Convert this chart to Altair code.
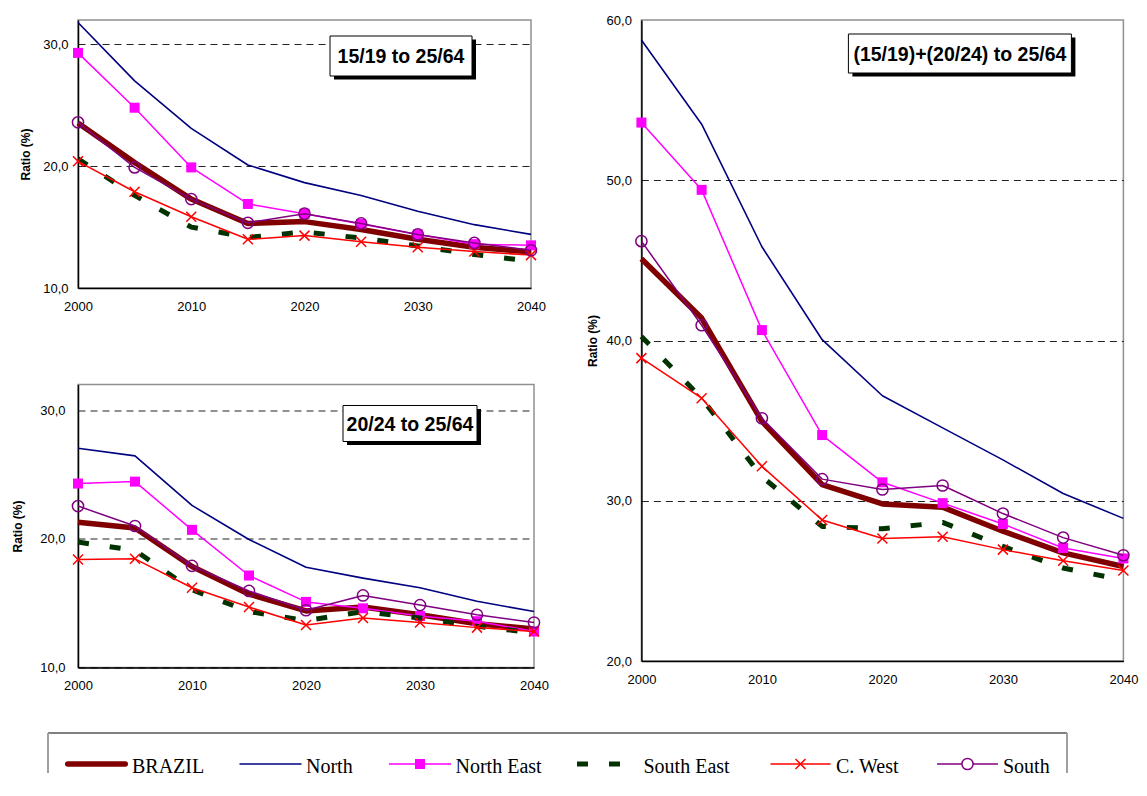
import altair as alt
import pandas as pd

# ---------------- data ----------------
years = [2000, 2005, 2010, 2015, 2020, 2025, 2030, 2035, 2040]
series_names = ["BRAZIL", "North", "North East", "South East", "C. West", "South"]
x_tick_values = [2000, 2010, 2020, 2030, 2040]

# Panel 1: 15/19 to 25/64
p1_title = "15/19 to 25/64"
p1_brazil = [23.55, 20.3, 17.3, 15.3, 15.45, 14.8, 14.0, 13.35, 12.95]
p1_north = [31.8, 27.0, 23.1, 20.1, 18.65, 17.6, 16.3, 15.2, 14.4]
p1_north_east = [29.3, 24.8, 19.9, 16.9, 16.1, 15.25, 14.4, 13.6, 13.5]
p1_south_east = [20.6, 17.6, 15.0, 14.15, 14.6, 14.1, 13.45, 12.75, 12.2]
p1_c_west = [20.4, 17.9, 15.85, 14.0, 14.3, 13.8, 13.35, 13.0, 12.7]
p1_south = [23.6, 19.9, 17.3, 15.35, 16.1, 15.3, 14.4, 13.7, 13.1]
p1_y_ticks = [10, 20, 30]

# Panel 2: 20/24 to 25/64
p2_title = "20/24 to 25/64"
p2_brazil = [21.3, 20.85, 17.85, 15.7, 14.4, 14.7, 14.1, 13.4, 13.0]
p2_north = [27.05, 26.45, 22.6, 19.95, 17.8, 16.95, 16.2, 15.15, 14.35]
p2_north_east = [24.3, 24.45, 20.7, 17.15, 15.1, 14.6, 14.0, 13.6, 12.8]
p2_south_east = [19.75, 19.1, 16.05, 14.35, 13.65, 14.35, 13.85, 13.2, 12.7]
p2_c_west = [18.4, 18.45, 16.2, 14.7, 13.3, 13.85, 13.5, 13.1, 12.8]
p2_south = [22.55, 21.0, 17.9, 15.95, 14.45, 15.6, 14.85, 14.1, 13.5]
p2_y_ticks = [10, 20, 30]

# Panel 3: (15/19)+(20/24) to 25/64
p3_title = "(15/19)+(20/24) to 25/64"
p3_brazil = [45.1, 41.4, 34.95, 31.0, 29.8, 29.6, 28.1, 26.75, 25.9]
p3_north = [58.75, 53.5, 45.85, 40.05, 36.55, 34.55, 32.55, 30.45, 28.9]
p3_north_east = [53.6, 49.4, 40.65, 34.1, 31.15, 29.85, 28.55, 27.05, 26.4]
p3_south_east = [40.25, 36.4, 31.5, 28.4, 28.25, 28.65, 27.15, 25.8, 25.05]
p3_c_west = [38.9, 36.4, 32.15, 28.8, 27.65, 27.75, 26.95, 26.25, 25.65]
p3_south = [46.2, 40.95, 35.15, 31.35, 30.7, 30.95, 29.2, 27.7, 26.6]
p3_y_ticks = [20, 30, 40, 50, 60]


def to_long(columns):
    rows = []
    for name, vals in zip(series_names, columns):
        for yr, v in zip(years, vals):
            rows.append({"series": name, "year": yr, "value": v})
    return pd.DataFrame(rows)


df1 = to_long([p1_brazil, p1_north, p1_north_east, p1_south_east, p1_c_west, p1_south])
df2 = to_long([p2_brazil, p2_north, p2_north_east, p2_south_east, p2_c_west, p2_south])
df3 = to_long([p3_brazil, p3_north, p3_north_east, p3_south_east, p3_c_west, p3_south])

# ---------------- styles ----------------
FONT = "Liberation Sans"
SERIF = "Liberation Serif"
line_styles = {
    "BRAZIL": dict(color="#800000", strokeWidth=5.5),
    "North": dict(color="#000080", strokeWidth=1.6),
    "North East": dict(color="#FF00FF", strokeWidth=1.5),
    "South East": dict(color="#003300", strokeWidth=5, strokeDash=[11, 21]),
    "C. West": dict(color="#FF0000", strokeWidth=1.5),
    "South": dict(color="#800080", strokeWidth=1.5),
}
X_PATH = "M-1,-1L1,1M-1,1L1,-1"
marker_styles = {
    "North East": dict(shape="square", size=100, filled=True, color="#FF00FF"),
    "C. West": dict(shape=X_PATH, size=100, filled=False, color="#FF0000", strokeWidth=1.5),
    "South": dict(shape="circle", size=125, filled=False, color="#800080", strokeWidth=1.5),
}


def make_panel(df, label, w, h, ydom, yticks, label_pad, title_x, box, hide_grid=None):
    xenc = alt.X(
        "year:Q",
        scale=alt.Scale(domain=[2000, 2040], nice=False, zero=False),
        axis=alt.Axis(values=x_tick_values, format="d", title=None, grid=False, ticks=False,
                      labelPadding=12, labelFontSize=13, labelColor="black", labelFont=FONT,
                      labelFlush=False, domainColor="black", domainWidth=1.5),
    )
    grid_op = 1
    if hide_grid is not None:
        grid_op = {"condition": {"test": hide_grid, "value": 0}, "value": 1}
    yenc = alt.Y(
        "value:Q",
        scale=alt.Scale(domain=ydom, nice=False, zero=False),
        axis=alt.Axis(values=yticks,
                      labelExpr="replace(format(datum.value, '.1f'), '.', ',')",
                      title="Ratio (%)", titleFontSize=12, titleFontWeight="bold", titleFont=FONT,
                      titleColor="black", titleX=title_x, titleY=h / 2,
                      labelPadding=label_pad, labelFontSize=13, labelColor="black", labelFont=FONT,
                      ticks=False, grid=True, gridDash=[7, 5], gridColor="#222222", gridWidth=1,
                      gridOpacity=grid_op, domainColor="black", domainWidth=1.5),
    )
    layers = []
    for name in series_names:
        base = alt.Chart(df).transform_filter(alt.datum.series == name)
        layers.append(base.mark_line(strokeJoin="round", **line_styles[name]).encode(x=xenc, y=yenc))
        if name in marker_styles:
            layers.append(base.mark_point(opacity=1, **marker_styles[name]).encode(x=xenc, y=yenc))

    ann = pd.DataFrame({"label": [label]})
    bx0, by0, bx1, by1 = box
    layers.append(alt.Chart(ann).mark_rect(color="black").encode(
        x=alt.value(bx0 + 4), x2=alt.value(bx1 + 4), y=alt.value(by0 + 3.5), y2=alt.value(by1 + 3.5)))
    layers.append(alt.Chart(ann).mark_rect(fill="white", stroke="black", strokeWidth=1).encode(
        x=alt.value(bx0), x2=alt.value(bx1), y=alt.value(by0), y2=alt.value(by1)))
    layers.append(alt.Chart(ann).mark_text(font=FONT, fontSize=19.5, fontWeight="bold", color="black",
                                           align="center", baseline="middle").encode(
        x=alt.value((bx0 + bx1) / 2), y=alt.value((by0 + by1) / 2 + 1), text="label:N"))
    return alt.layer(*layers).properties(width=w, height=h)


tl = make_panel(df1, p1_title, 453, 268, [10, 32], p1_y_ticks, 10, -45.8, (252, 16, 394, 56))
bl = make_panel(df2, p2_title, 456, 283, [10, 32], p2_y_ticks, 13, -53.6, (265, 21, 399, 57))
rt = make_panel(df3, p3_title, 482, 641, [20, 60], p3_y_ticks, 10, -42, (207, 14, 430, 53),
                hide_grid="datum.value <= 20 || datum.value >= 60")

# ---------------- legend ----------------
legend_df = pd.DataFrame({"series": series_names})
legend_lines = {
    "BRAZIL": dict(cx=18.5, half=28.75, color="#800000", strokeWidth=5.5, strokeCap="round"),
    "North": dict(cx=192.5, half=31, color="#000080", strokeWidth=1.6),
    "North East": dict(cx=342, half=31, color="#FF00FF", strokeWidth=1.5),
    "South East": dict(cx=530, half=31, color="#003300", strokeWidth=5, strokeDash=[11, 21]),
    "C. West": dict(cx=722.5, half=30, color="#FF0000", strokeWidth=1.5),
    "South": dict(cx=889.5, half=30.5, color="#800080", strokeWidth=1.5),
}
legend_markers = {
    "North East": dict(shape="square", size=100, filled=True, color="#FF00FF"),
    "C. West": dict(shape=X_PATH, size=100, filled=False, color="#FF0000", strokeWidth=1.5),
    "South": dict(shape="circle", size=125, filled=True, fill="white", stroke="#800080", strokeWidth=1.5),
}
LEG_W, LEG_H, BOX_L = 989, 40, -30
leg_layers = [
    alt.Chart(legend_df).mark_rule(color="#808080", strokeWidth=1.5).encode(
        x=alt.value(BOX_L), x2=alt.value(LEG_W), y=alt.value(0)),
    alt.Chart(legend_df).mark_rule(color="#a0a0a0", strokeWidth=1.5).encode(
        x=alt.value(BOX_L), y=alt.value(0), y2=alt.value(LEG_H)),
    alt.Chart(legend_df).mark_rule(color="#a0a0a0", strokeWidth=1.5).encode(
        x=alt.value(LEG_W), y=alt.value(0), y2=alt.value(LEG_H)),
]
for name in series_names:
    st = dict(legend_lines[name])
    cx = st.pop("cx")
    half = st.pop("half")
    base = alt.Chart(legend_df).transform_filter(alt.datum.series == name)
    leg_layers.append(base.mark_rule(**st).encode(
        x=alt.value(cx - half), x2=alt.value(cx + half), y=alt.value(31)))
    if name in legend_markers:
        leg_layers.append(base.mark_point(opacity=1, **legend_markers[name]).encode(
            x=alt.value(cx), y=alt.value(31)))
    leg_layers.append(base.mark_text(font=SERIF, fontSize=20, color="black", align="left",
                                     baseline="middle").encode(
        x=alt.value(cx + 35.5), y=alt.value(34), text="series:N"))
legend = alt.layer(*leg_layers).properties(width=LEG_W, height=LEG_H,
                                           view=alt.ViewBackground(stroke="transparent"))

left = alt.vconcat(tl, bl, spacing=69.5).resolve_scale(x="independent", y="independent")
top = alt.hconcat(left, rt, spacing=35.4).resolve_scale(x="independent", y="independent")
chart = (
    alt.vconcat(top, legend, spacing=37)
    .resolve_scale(x="independent", y="independent")
    .properties(padding={"left": 2, "top": 5, "right": 0, "bottom": 0}, background="white")
    .configure(font=FONT)
    .configure_view(stroke="#909090", strokeWidth=1.5)
)
chart.save("out.html", embed_options={"renderer": "svg", "actions": False})
